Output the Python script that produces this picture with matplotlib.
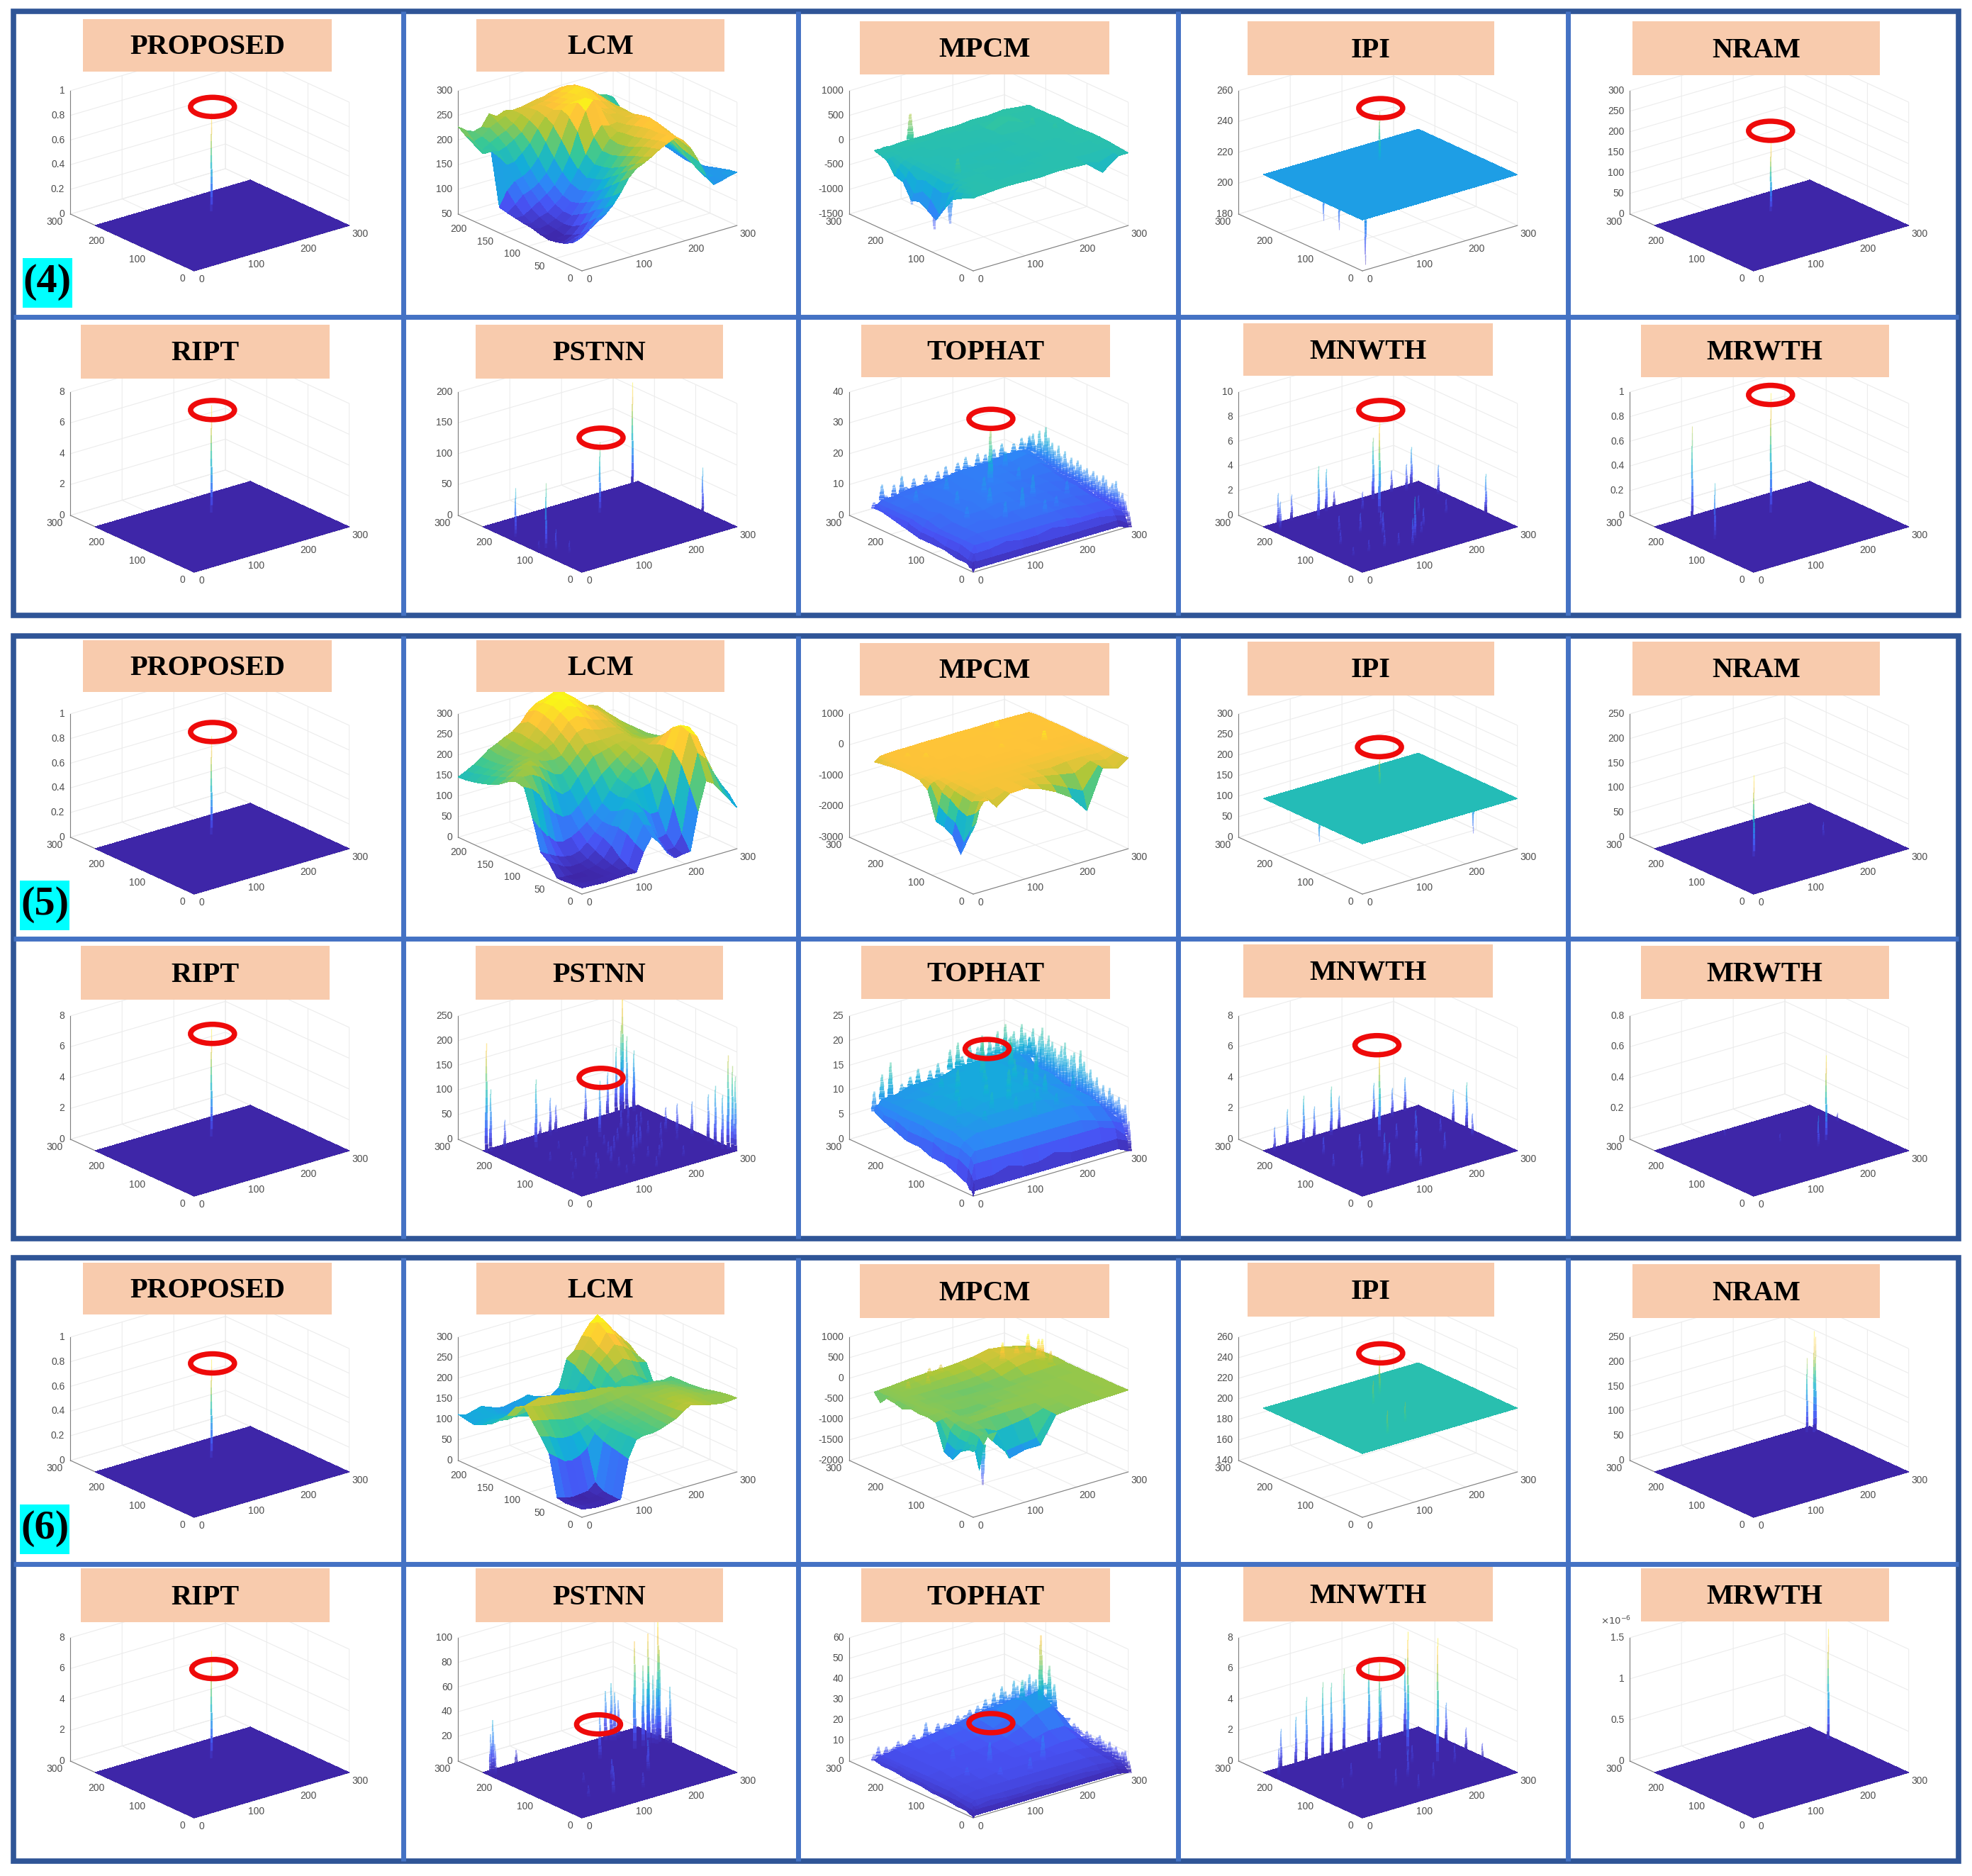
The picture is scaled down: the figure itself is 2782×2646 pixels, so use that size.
import matplotlib
matplotlib.use("Agg")
import matplotlib.pyplot as plt
import numpy as np
from matplotlib.colors import LinearSegmentedColormap, Normalize
from matplotlib.patches import Ellipse, Rectangle
from mpl_toolkits.mplot3d import proj3d
from mpl_toolkits.mplot3d.art3d import Line3DCollection

W, H = 2782, 2646
S = 1.774  # overview px -> full px

parula = LinearSegmentedColormap.from_list("parula", [
    (0.2422, 0.1504, 0.6603), (0.2810, 0.3228, 0.9579), (0.1786, 0.5289, 0.9682),
    (0.0689, 0.6948, 0.8394), (0.2161, 0.7843, 0.5923), (0.6720, 0.7793, 0.2227),
    (0.9970, 0.7659, 0.2199), (0.9769, 0.9839, 0.0805)])

# surfaces: rows go y=0..ymax, columns x=0..300
lcm4 = [
    [122,130,140,150,165,185,210,225,232,240,250,258,265,255,235,205,170,147,150,155,158],
    [100,105,118,135,150,170,195,212,222,232,245,255,262,256,240,210,175,155,150,152,155],
    [90,95,100,120,140,158,180,198,210,225,240,250,258,258,245,215,185,165,155,150,150],
    [85,82,90,105,125,145,165,185,200,218,232,245,258,262,250,225,195,175,160,150,145],
    [82,80,82,95,115,135,152,172,190,210,225,240,255,265,255,232,205,180,165,152,140],
    [85,80,85,92,105,125,145,165,185,205,222,238,250,262,258,238,212,190,170,155,135],
    [90,85,88,95,105,120,140,160,182,205,225,235,245,255,255,240,220,195,175,155,135],
    [92,88,95,100,112,125,145,170,195,225,245,240,242,248,250,240,222,200,178,158,138],
    [95,95,105,115,125,138,160,190,235,270,288,265,250,248,248,238,222,205,182,160,142],
    [98,110,125,130,140,155,180,215,255,280,285,270,255,250,245,240,225,205,185,165,145],
    [102,130,145,150,160,178,205,235,262,270,272,268,265,258,250,240,225,208,190,170,150],
    [207,190,170,172,185,200,225,245,255,262,268,272,278,268,255,242,228,210,192,172,155],
    [195,198,190,195,205,215,235,250,255,258,262,268,275,270,258,245,230,212,195,178,160],
    [205,190,200,208,215,225,240,248,250,252,258,262,268,265,258,248,232,215,200,185,170],
    [215,200,205,218,225,232,240,242,245,248,250,255,258,258,255,245,235,220,205,192,178],
    [227,215,208,212,235,225,232,228,215,210,215,222,228,225,235,228,230,218,210,205,195]]
lcm5 = [
    [15,14,13,12,13,14,15,14,60,90,70,40,22,25,27,120,187,175,150,125,100],
    [14,12,10,10,11,13,15,18,70,110,100,60,30,32,60,170,245,225,185,150,125],
    [12,10,8,9,10,12,18,30,85,130,125,85,50,55,120,215,285,270,220,175,140],
    [11,9,8,8,10,14,25,50,90,130,140,120,100,100,165,240,292,285,235,195,160],
    [40,30,18,14,15,20,35,60,85,115,140,155,155,160,195,240,280,280,245,205,170],
    [56,45,35,28,25,30,45,65,85,105,135,160,180,190,210,235,255,262,240,205,180],
    [130,100,75,55,50,55,65,80,95,115,140,165,185,200,215,225,235,240,225,205,190],
    [195,185,165,135,110,95,95,110,130,150,170,185,200,212,222,225,225,222,215,205,195],
    [200,205,205,195,175,150,135,140,165,185,205,210,215,220,222,222,215,210,205,200,195],
    [190,198,210,212,205,190,175,170,185,205,225,225,225,225,228,225,212,205,200,195,190],
    [175,185,198,205,210,205,198,195,200,225,245,250,240,235,235,230,218,205,200,195,185],
    [165,178,185,192,200,202,205,210,220,240,262,270,262,250,245,238,225,212,205,195,180],
    [158,170,178,185,192,198,205,215,232,255,275,285,278,265,255,245,232,218,208,195,175],
    [152,165,172,180,188,195,205,218,240,265,282,292,288,278,265,250,238,225,212,195,170],
    [148,158,168,178,188,196,208,222,245,268,280,288,292,285,270,252,235,225,215,195,160],
    [146,155,165,178,192,200,210,218,232,255,270,275,282,288,268,248,225,228,220,190,150]]
lcm6 = [
    [20,16,14,14,15,16,110,150,155,155,158,165,172,185,196,190,185,181,178,178,180],
    [18,14,12,12,13,16,115,150,154,155,158,165,172,182,190,188,184,180,178,178,178],
    [16,12,10,10,12,18,120,150,155,156,160,166,172,180,186,186,184,180,178,176,175],
    [20,14,10,12,14,30,125,150,156,158,162,168,172,178,182,184,182,180,176,172,170],
    [120,105,90,85,90,105,135,152,158,160,165,170,174,178,180,180,180,178,174,170,165],
    [150,145,135,130,130,135,145,155,160,162,166,170,175,176,178,176,178,176,172,166,162],
    [178,175,170,165,160,158,158,160,165,168,170,172,175,176,176,174,174,172,168,164,160],
    [205,200,195,192,190,188,185,180,178,176,178,180,180,178,175,172,168,168,165,162,160],
    [195,190,195,198,198,195,190,188,185,182,182,180,176,170,168,162,160,160,158,155,158],
    [165,160,172,180,185,182,175,170,165,160,158,155,150,145,150,150,148,148,130,125,120],
    [145,140,142,145,148,145,140,132,125,118,112,110,108,108,130,150,158,160,150,135,118],
    [125,128,130,128,122,118,112,108,104,100,98,98,100,105,128,165,178,190,180,170,165],
    [115,120,118,115,112,110,105,100,100,100,105,102,100,110,135,178,195,215,205,190,172],
    [105,112,110,112,108,104,98,95,100,105,108,100,98,115,150,188,205,235,225,205,190],
    [108,105,112,108,102,98,95,98,102,108,105,98,95,110,165,195,220,250,245,220,198],
    [112,105,110,115,108,100,98,102,105,110,100,95,92,105,170,185,215,240,255,230,200]]

mp_x = [0,6,12,20,30,45,70,100,130,160,190,220,250,280,300]
mp_y = [0,10,30,50,70,90,110,130,150,170,190,210,225,240]
mpcm4 = [
    [-30,-20,-10,-10,0,10,20,10,0,20,10,-10,-270,-30,-30],
    [-60,-30,-15,-10,5,0,10,0,10,-5,10,-10,-120,-10,-20],
    [-150,-60,-20,-10,10,-10,-20,5,-10,10,0,10,-10,5,0],
    [-250,-120,-40,-20,-10,0,-30,-40,-20,-10,5,0,10,0,20],
    [-520,-350,-200,-60,-30,-20,-10,10,-40,-30,-20,10,0,10,30],
    [-820,-700,-300,-150,-60,-40,-30,-10,-50,-20,-10,0,10,20,30],
    [-700,-480,-250,-120,-70,-50,-20,-30,-20,-10,10,0,10,10,20],
    [-600,-400,-200,-100,-50,-30,-40,-20,-30,-40,-10,5,20,10,10],
    [-650,-520,-260,-90,-50,-40,-20,-30,-40,-10,-20,10,10,30,20],
    [-350,-300,-150,-80,-40,-20,-30,-20,-10,-30,10,-10,20,10,30],
    [-300,-180,-100,-50,-20,-30,-10,-20,0,-10,20,130,10,20,20],
    [-60,-50,-30,-20,-10,-30,-20,0,-10,10,0,150,20,80,20],
    [-20,-30,-20,-10,-20,-10,0,-10,10,0,20,10,30,20,10],
    [15,20,10,30,10,20,30,20,40,30,60,50,80,40,20]]
mpcm5 = [
    [-900,-700,-300,-100,-100,-400,-80,-60,-220,-470,-800,-1370,-150,-300,-50],
    [-1200,-900,-500,-150,-90,-250,-70,-60,-150,-300,-550,-800,-120,-350,-60],
    [-1900,-1500,-700,-300,-120,-100,-60,-50,-100,-150,-250,-350,-100,-200,-50],
    [-1400,-1000,-600,-250,-100,-80,-60,-70,-60,-100,-150,-100,-80,-120,-40],
    [-1250,-900,-400,-200,-90,-70,-50,-60,-70,-50,-90,-60,-70,-60,-30],
    [-1200,-700,-300,-120,-70,-50,-60,-40,-50,-60,-50,-40,-50,-50,-30],
    [-300,-150,-100,-70,-50,-60,-40,-50,-40,-50,-40,-20,-30,-40,-40],
    [-100,-80,-60,-50,-40,-50,-40,-30,-40,-30,-20,-40,-40,-30,-30],
    [-70,-60,-50,-40,-50,-30,-40,-30,-30,-20,-30,-30,-20,-30,-20],
    [-60,-50,-50,-40,-40,-30,-40,-20,-30,-30,-20,-30,-30,-20,-20],
    [-80,-50,-40,-50,-30,-40,-30,-30,-20,-30,-20,-20,-30,-20,-30],
    [-120,-60,-50,-40,-40,-30,-30,-20,-30,-20,-30,-20,-20,-30,-20],
    [-150,-80,-50,-40,-30,-40,-30,-30,-20,-20,-20,-30,-20,-20,-30],
    [-190,-120,-60,-50,-40,-30,-30,-20,-30,-20,-30,-20,-30,-40,-50]]
mpcm6 = [
    [-410,-350,-900,-300,-100,-100,-820,-720,-720,-100,-60,-40,-30,-20,-10],
    [-410,-300,-500,-180,-120,-350,-700,-650,-600,-90,-50,-40,-30,-20,-10],
    [-540,-500,-350,-150,-120,-150,-300,-250,-200,-80,-50,-40,-30,-20,-20],
    [-820,-600,-350,-180,-100,-80,-70,-60,-50,-50,-40,-40,-30,-30,-20],
    [-740,-500,-250,-120,-90,-60,-70,-30,-40,-40,-40,-30,-40,-30,-20],
    [-120,-100,-90,-70,-70,-120,-150,-100,-60,-60,-40,-40,-30,-30,-30],
    [-70,-60,-60,-50,-50,-90,-130,-120,-100,-60,-50,-40,-40,-30,-30],
    [-90,-60,-60,-50,-60,-60,-70,-60,-70,-80,-60,-50,-40,-30,-30],
    [-60,-60,-50,-60,-70,-80,-100,-120,-120,-110,-90,-60,-40,-30,-30],
    [-160,-90,-60,-50,-60,-80,-90,-100,-110,-90,-60,60,120,60,-10],
    [-100,-70,-60,-50,-40,-60,-60,-70,-60,-40,20,120,200,100,-20],
    [-80,-60,-50,-50,-50,-40,-30,-10,0,20,80,160,200,80,-30],
    [-250,-80,-60,-50,-40,-30,-10,20,40,60,120,180,150,60,-40],
    [-60,-55,-50,-45,-40,-20,10,30,30,50,90,170,120,30,-40]]

th_x = [0,3,8,15,40,70,100,130,160,190,220,250,280,300]
th_y = [0,3,8,15,40,70,100,130,160,190,220,240]
tophat4 = [
    [0,1,1,1,1,1,1,1,1,1,1,1,1,0],
    [1,3,3,3,3,3,3,3,3,3,3,3,3,1],
    [1,3,5,5,5,6,5,5,6,5,5,5,4,3],
    [2,3,5,7,7,7,7,7,7,7,6,6,6,4],
    [2,4,6,7,8,8,8,8,8,8,8,7,7,5],
    [3,4,6,7,8,9,8,9,9,9,8,8,7,5],
    [3,5,6,7,8,9,9,10,9,9,9,8,8,6],
    [3,5,6,8,9,9,10,9,10,9,9,9,8,7],
    [4,6,7,8,8,9,9,10,10,10,9,9,9,7],
    [5,6,7,8,9,9,10,9,10,10,10,9,10,8],
    [6,6,7,8,9,9,9,10,10,10,10,10,11,9],
    [6,7,7,8,8,9,9,9,10,10,10,11,11,10]]
tophat5 = [
    [0,1,1,1,1,1,1,1,1,1,1,1,1,0],
    [1,3,3,3,3,4,3,3,4,3,3,3,3,2],
    [1,4,6,6,6,6,6,6,6,6,6,6,5,3],
    [2,5,7,8,8,8,8,8,8,8,8,7,6,5],
    [3,6,8,9,10,10,10,10,10,10,10,9,8,6],
    [4,6,8,10,10,11,11,11,11,11,10,10,9,6],
    [4,7,8,10,11,11,12,12,12,12,11,10,9,7],
    [5,7,9,10,11,12,12,12,12,12,11,10,9,7],
    [5,7,9,10,11,12,12,12,12,12,12,11,10,7],
    [6,8,9,10,11,11,12,12,12,12,12,11,10,8],
    [7,8,9,10,10,11,11,12,12,12,12,11,10,8],
    [8,9,9,10,10,11,11,11,12,12,12,12,11,10]]
tophat6 = [
    [0,1,1,1,1,1,1,1,1,1,1,1,1,0],
    [1,2,3,3,3,3,3,3,3,3,3,3,3,1],
    [1,3,4,4,5,4,4,5,4,5,5,4,4,2],
    [2,3,5,6,6,6,6,6,6,6,6,6,5,3],
    [2,4,5,6,7,7,7,7,7,7,7,7,6,4],
    [3,4,6,7,7,7,8,8,8,8,8,8,7,5],
    [3,4,6,7,7,8,8,8,8,8,8,9,9,6],
    [4,5,6,7,8,8,8,8,8,9,10,12,12,8],
    [4,5,6,7,8,8,8,8,9,10,13,17,19,13],
    [5,6,7,7,8,8,8,9,10,12,15,21,24,15],
    [5,6,7,7,8,8,9,10,11,13,16,19,18,12],
    [6,6,7,7,8,9,10,11,12,14,15,15,14,10]]

# tips standing along the two far edges of the TOPHAT surfaces, left corner -> back -> right corner
th4_back = [8,7,13,9,7,12,8,14,10,8,12,9,8,12,10,9,12,9,13,10,9,13,10,14,11,9,14,11,13,10,14,11,15,12,10,14,11,15,13,14]
th4_right = [15,16,13,18,15,20,17,16,14,16,13,15,12,14,12,14,13,12,13,11,13,12,11,13,12,10,12,13,10,10,8,5]
th5_back = [12,8,15,9,17,10,9,12,10,13,10,14,11,10,13,11,14,12,11,16,12,17,14,12,16,13,15,17,13,16,14,17,14,18,15,16,14,17,15,14]
th5_right = [14,16,13,15,17,14,16,15,14,13,15,16,13,14,15,12,16,14,12,13,11,12,10,11,9,11,10,9,10,8,9,6]
th6_back = [9,12,8,11,9,10,12,10,9,11,13,10,11,17,12,11,15,12,14,13,12,16,14,15,17,14,18,16,20,17,22,18,24,21,19,25,22,20,23,26]
th6_right = [21,23,25,22,27,20,17,14,13,11,12,13,11,10,12,11,10,9,11,10,9,10,12,10,9,11,9,10,8,9,10,6]

# spikes as (x, y, height)
prop_sp = [(173,176,0.8)]
ript_sp = [(173,176,7.0)]
ipi4_sp = [(173,176,245),(12,8,182),(25,125,195),(30,95,192)]
ipi5_sp = [(173,176,190),(20,130,60),(250,45,35),(105,105,90),(160,60,85),(60,180,95)]
ipi6_sp = [(173,176,240),(80,40,225),(130,60,222),(140,150,225)]
nram4_sp = [(173,176,170)]
nram5_sp = [(97,121,165),(230,120,30)]
nram6_sp = [(290,218,205),(296,222,190),(283,225,150)]
pstnn4_sp = [(175,176,115),(287,237,165),(298,82,72),(20,113,105),(12,177,80),(25,95,35),(8,115,15),(35,75,20)]
pstnn5_sp = [(2,235,220),(8,232,125),(30,225,60),(72,202,137),(120,228,75),(135,232,55),(105,232,30),
             (175,176,113),(195,235,75),(235,232,90),(265,238,175),(270,240,240),(285,232,120),(258,240,130),
             (262,232,110),(275,236,150),(280,225,90),(290,40,120),(295,15,190),(297,8,170),(299,4,150),
             (285,90,70),(275,115,60),(265,130,50),(292,60,95),(288,20,110),(60,90,25),(80,60,30),(100,120,25),
             (120,80,35),(140,50,28),(150,110,35),(170,90,40),(180,140,30),(200,110,45),(210,70,30),(225,150,40),
             (240,110,35),(250,170,30),(130,150,25),(90,170,20),(50,140,22),(110,30,20),(160,20,25),(190,50,28),
             (30,60,18),(220,30,25),(75,120,22),(95,85,28),(115,55,24),(135,105,30),(155,140,24),(185,100,38),
             (205,145,36),(215,175,42),(235,135,30),(245,195,40),(175,60,26),(60,40,16),(255,90,22)]
pstnn6_sp = [(5,228,32),(8,222,25),(12,232,42),(60,235,12),(175,176,35),(235,224,46),(228,228,40),(240,222,38),
             (250,225,30),(258,175,33),(241,175,87),(258,175,65),(267,175,90),(277,175,55),(286,175,100),(289,175,74),
             (262,168,50),(272,180,62),(280,170,45),(298,160,45),(295,165,28),(100,50,22),(130,90,18),(60,60,10),
             (200,90,25),(150,40,12),(90,110,9)]
mnwth4_sp = [(173,176,7.5),(85,213,4.3),(200,225,5.0),(12,215,2.3),(22,232,2.6),(50,235,2.1),(115,232,3.4),
             (135,238,1.3),(160,200,1.5),(240,230,1.8),(262,222,2.2),(280,232,3.2),(290,180,2.4),(60,60,1.0),
             (90,60,1.4),(100,130,1.6),(120,100,1.9),(130,40,2.2),(150,60,3.4),(170,70,1.0),(298,75,3.2),
             (45,110,1.2),(75,150,1.4),(110,50,1.1),(140,130,1.3),(190,90,1.5),(220,140,1.4),(250,110,1.2),(30,60,0.8)]
mnwth5_sp = [(173,176,5.6),(12,228,1.6),(40,232,2.4),(70,230,3.0),(95,235,2.0),(120,225,3.2),(145,238,2.2),
             (210,235,2.4),(240,228,1.9),(270,235,2.2),(298,120,3.0),(295,150,2.2),(285,90,1.5),(70,90,1.2),
             (100,60,1.8),(130,110,1.5),(160,70,2.2),(200,120,1.8),(230,160,1.4),(60,170,1.2),
             (40,120,0.9),(85,45,1.0),(115,150,1.1),(145,40,1.2),(185,150,1.1),(215,70,1.2),(255,130,1.0)]
mnwth6_sp = [(173,176,6.2),(216,161,8.0),(236,113,8.0),(262,225,5.0),(10,215,1.8),(30,235,2.6),(55,230,3.2),
             (80,235,4.2),(105,228,5.0),(130,238,4.6),(150,232,5.4),(200,235,5.6),(215,225,3.6),(298,170,2.5),
             (296,120,1.5),(288,70,1.2),(120,70,1.2),(160,90,1.8),(90,140,1.0),(200,130,1.2),
             (50,110,0.8),(140,40,1.0),(185,60,1.1),(250,90,1.2)]
mrwth4_sp = [(173,176,0.97),(68,234,0.74),(41,145,0.45)]
mrwth5_sp = [(230,112,0.55),(205,100,0.2),(120,220,0.05),(290,160,0.06),(170,150,0.06)]
mrwth6_sp = [(290,183,1.35)]
mpcm4_sp = [(15,113,-1135),(20,81,-909),(10,162,-808),(65,234,600),(44,92,300),(250,170,180),(270,140,120)]
mpcm5_sp = [(243,133,300),(217,215,250),(60,190,120),(40,210,90),(175,150,100)]
mpcm6_sp = [(20,2,-1290),(215,92,-1200),(195,80,-1150),(175,85,-1100),(214,198,560),(257,190,640),(263,172,580),
            (268,169,590),(276,159,300),(240,195,400),(100,232,200),(120,230,220),(80,210,180),(45,215,160)]
lcm_sp = []
tophat4_sp = [(173,176,27),(150,70,16),(120,110,15),(195,100,16),(80,140,14),(60,90,13),(215,160,14),(245,80,13),
              (110,60,14),(170,40,13),(140,150,15),(40,190,13),(100,190,14),(230,210,15),(200,50,12)]
tophat5_sp = [(170,190,19),(200,150,16),(100,80,15),(240,210,17),(80,140,15),(120,120,16),(140,90,16),(150,160,15),
              (165,120,16),(190,110,16),(210,90,15),(60,110,14),(40,150,13),(105,170,16),(130,60,14),(180,70,14),
              (225,130,16),(250,160,15),(225,190,17),(265,90,13),(90,190,14),(70,60,13),(150,40,13),(200,50,13),(35,80,12)]
tophat6_sp = [(270,175,53),(287,175,37),(298,178,27),(255,200,30),(290,190,27),(173,176,14),(120,110,18),(190,70,20),
              (80,150,14),(60,90,12),(150,50,14),(220,120,14),(100,60,12)]

xy_ticks = [0, 100, 200, 300]
lcm_yticks = [0, 50, 100, 150, 200]
t_prop = [0, 0.2, 0.4, 0.6, 0.8, 1]
t_ript = [0, 2, 4, 6, 8]

PANELS = [
    dict(title="PROPOSED", zt=t_prop, level=0, sp=prop_sp),
    dict(title="LCM", zt=[50,100,150,200,250,300], grid=lcm4, ymax=230, sp=lcm_sp),
    dict(title="MPCM", zt=[-1500,-1000,-500,0,500,1000], grid=mpcm4, gx=mp_x, gy=mp_y, sp=mpcm4_sp, clim=(-1500,1400), wide=3.0),
    dict(title="IPI", zt=[180,200,220,240,260], level=213, sp=ipi4_sp, clim=(180,270)),
    dict(title="NRAM", zt=[0,50,100,150,200,250,300], level=0, sp=nram4_sp),
    dict(title="RIPT", zt=t_ript, level=0, sp=ript_sp),
    dict(title="PSTNN", zt=[0,50,100,150,200], level=0, sp=pstnn4_sp),
    dict(title="TOPHAT", zt=[0,10,20,30,40], grid=tophat4, gx=th_x, gy=th_y, sp=tophat4_sp, back=th4_back, right=th4_right, clim=(0,38), wide=2.4),
    dict(title="MNWTH", zt=[0,2,4,6,8,10], level=0, sp=mnwth4_sp, wide=1.2),
    dict(title="MRWTH", zt=t_prop, level=0, sp=mrwth4_sp),

    dict(title="PROPOSED", zt=t_prop, level=0, sp=prop_sp),
    dict(title="LCM", zt=[0,50,100,150,200,250,300], grid=lcm5, ymax=230, sp=lcm_sp),
    dict(title="MPCM", zt=[-3000,-2000,-1000,0,1000], grid=mpcm5, gx=mp_x, gy=mp_y, sp=mpcm5_sp, clim=(-2000,300), wide=3.0),
    dict(title="IPI", zt=[0,50,100,150,200,250,300], level=122, sp=ipi5_sp, clim=(0,245)),
    dict(title="NRAM", zt=[0,50,100,150,200,250], level=0, sp=nram5_sp),
    dict(title="RIPT", zt=t_ript, level=0, sp=ript_sp),
    dict(title="PSTNN", zt=[0,50,100,150,200,250], level=0, sp=pstnn5_sp, wide=1.3),
    dict(title="TOPHAT", zt=[0,5,10,15,20,25], grid=tophat5, gx=th_x, gy=th_y, sp=tophat5_sp, back=th5_back, right=th5_right, clim=(0,30), wide=2.4),
    dict(title="MNWTH", zt=[0,2,4,6,8], level=0, sp=mnwth5_sp, wide=1.2),
    dict(title="MRWTH", zt=[0,0.2,0.4,0.6,0.8], level=0, sp=mrwth5_sp),

    dict(title="PROPOSED", zt=t_prop, level=0, sp=prop_sp),
    dict(title="LCM", zt=[0,50,100,150,200,250,300], grid=lcm6, ymax=230, sp=lcm_sp),
    dict(title="MPCM", zt=[-2000,-1500,-1000,-500,0,500,1000], grid=mpcm6, gx=mp_x, gy=mp_y, sp=mpcm6_sp, clim=(-1400,600), wide=2.4),
    dict(title="IPI", zt=[140,160,180,200,220,240,260], level=202, sp=ipi6_sp, clim=(140,260)),
    dict(title="NRAM", zt=[0,50,100,150,200,250], level=0, sp=nram6_sp),
    dict(title="RIPT", zt=t_ript, level=0, sp=ript_sp),
    dict(title="PSTNN", zt=[0,20,40,60,80,100], level=0, sp=pstnn6_sp, wide=1.5),
    dict(title="TOPHAT", zt=[0,10,20,30,40,50,60], grid=tophat6, gx=th_x, gy=th_y, sp=tophat6_sp, back=th6_back, right=th6_right, clim=(0,60), wide=2.4),
    dict(title="MNWTH", zt=[0,2,4,6,8], level=0, sp=mnwth6_sp, wide=1.2),
    dict(title="MRWTH", zt=[0,0.5,1,1.5], level=0, sp=mrwth6_sp),
]

# layout in full px
COL_X = [99, 646, 1198, 1747, 2299]
ROW_Y = [300, 725, 1179, 1605, 2058, 2482]
# title boxes in overview px
TITLE_X = [[66,264],[379,576],[684,882],[992,1188],[1298,1495],[64,262],[378,575],[685,883],[989,1187],[1305,1502]]
TITLE_Y = [
    [15,57],[15,57],[17,59],[17,60],[17,60],[258,301],[258,301],[258,300],[257,299],[258,300],
    [509,550],[509,550],[511,553],[510,553],[510,553],[752,795],[752,795],[752,794],[751,793],[752,794],
    [1004,1045],[1004,1045],[1005,1048],[1004,1047],[1005,1048],[1247,1290],[1247,1290],[1247,1290],[1246,1289],[1247,1289]]
RINGS = [(169,85),(1098,86),(1408,104),(169,326),(478,348),(788,333),(1098,326),(1408,314),
         (169,582),(1097,594),(169,822),(478,857),(785,834),(1095,831),
         (169,1084),(1098,1076),(170,1327),(476,1371),(788,1370),(1098,1327)]
GROUP_Y = [(16,447,868),(897,1324,1747),(1774,2206,2625)]
SEP_X = [569, 1126, 1662, 2212]
TAGS = [("(4)",18,205),("(5)",16,700),("(6)",16,1196)]

plt.rcParams["font.family"] = ["Liberation Sans", "DejaVu Sans"]
plt.rcParams["grid.color"] = "#ececec"
plt.rcParams["grid.linewidth"] = 0.8
plt.rcParams["axes3d.automargin"] = False

fig = plt.figure(figsize=(W / 100, H / 100), dpi=100)

AX_PX = 425.0  # square axes side that gives a 280 px long floor edge
TICK_TEXT = []


def fmt(v):
    return "%g" % v


def to_px(ax, x, y, z):
    x2, y2, _ = proj3d.proj_transform(x, y, z, ax.get_proj())
    dx, dy = ax.transData.transform((x2, y2))
    return dx, H - dy


def draw_spikes(ax, spikes, panel, norm, xs, ys, zorder):
    segs, cols, lws = [], [], []
    wide = panel.get("wide", 1.0)
    for x, y, h in spikes:
        if "grid" in panel:
            b = panel["grid"][np.abs(ys - y).argmin()][np.abs(xs - x).argmin()]
        else:
            b = panel["level"]
        zs = np.linspace(b, h, 15)
        for k in range(14):
            segs.append([(x, y, zs[k]), (x, y, zs[k + 1])])
            c = list(parula(norm((zs[k] + zs[k + 1]) / 2)))
            c[3] = 1.0 - 0.55 * k / 13
            cols.append(c)
            lws.append(wide * (2.6 - 1.8 * k / 13))
    if segs:
        lc = Line3DCollection(segs, colors=cols, linewidths=lws, zorder=zorder)
        lc.set_capstyle("butt")
        ax.add_collection3d(lc)


for i, p in enumerate(PANELS):
    bx = COL_X[i % 5]
    by = ROW_Y[i // 5]
    cx, cy = bx + 197, by + 10 - 87
    rect = [(cx - 0.5135 * AX_PX) / W, (H - cy - 0.5135 * AX_PX) / H, AX_PX / W, AX_PX / H]
    ax = fig.add_axes(rect, projection="3d", proj_type="ortho", computed_zorder=False)
    ax.view_init(elev=21.5, azim=-128.6)
    ax.set_box_aspect((280, 280, 187))
    ax.set_facecolor("none")

    ymax = p.get("ymax", 300)
    zt = p["zt"]
    ax.set_xlim(0, 300, view_margin=0)
    ax.set_ylim(0, ymax, view_margin=0)
    ax.set_zlim(zt[0], zt[-1], view_margin=0)
    yt = lcm_yticks if ymax != 300 else xy_ticks
    ax.set_xticks(xy_ticks)
    ax.set_yticks(yt)
    ax.set_zticks(zt)
    ax.set_xticklabels([])
    ax.set_yticklabels([])
    ax.set_zticklabels([])
    for a in (ax.xaxis, ax.yaxis, ax.zaxis):
        a.set_pane_color((1, 1, 1, 0))
        a.pane.set_edgecolor((1, 1, 1, 0))
        a._axinfo["tick"]["inward_factor"] = 0.0
        a._axinfo["tick"]["outward_factor"] = 0.0
        a.line.set_color((1, 1, 1, 0))

    # surface
    if "grid" in p:
        Z = np.array(p["grid"], dtype=float)
        p["grid"] = Z
        xs = np.array(p.get("gx", np.linspace(0, 300, Z.shape[1])), dtype=float)
        ys = np.array(p.get("gy", np.linspace(0, ymax, Z.shape[0])), dtype=float)
    else:
        Z = np.array([[p["level"]] * 2] * 2, dtype=float)
        xs = np.array([0.0, 300.0])
        ys = np.array([0.0, 240.0])
    spk = p["sp"]
    all_z = list(Z.ravel()) + [s[2] for s in spk]
    lo, hi = p.get("clim", (min(all_z), max(all_z)))
    norm = Normalize(lo, hi)

    ax.plot([0, 300], [0, 0], [zt[0], zt[0]], color="#7f7f7f", lw=0.8, zorder=0)
    ax.plot([0, 0], [0, ymax], [zt[0], zt[0]], color="#7f7f7f", lw=0.8, zorder=0)
    ax.plot([0, 0], [ymax, ymax], [zt[0], zt[-1]], color="#7f7f7f", lw=0.8, zorder=0)

    level = p.get("level", Z.mean())
    below = [s for s in spk if s[2] < level]
    if "back" in p:
        bx_tips = np.linspace(0, 300, len(p["back"]))
        below += [(v, 240, h) for v, h in zip(bx_tips, p["back"])]
        by_tips = np.linspace(240, 0, len(p["right"]))
        below += [(300, v, h) for v, h in zip(by_tips, p["right"])]
    above = [s for s in spk if s[2] >= level]
    draw_spikes(ax, below, p, norm, xs, ys, 1)
    XX, YY = np.meshgrid(xs, ys)
    ax.plot_surface(XX, YY, Z, cmap=parula, norm=norm, rstride=1, cstride=1,
                    linewidth=0, antialiased=False, shade=False, zorder=2)
    draw_spikes(ax, above, p, norm, xs, ys, 3)

    # tick labels go on the overlay, placed from the axes' own projection
    for v in xy_ticks:
        px, py = to_px(ax, v, 0, zt[0])
        TICK_TEXT.append((px + (10 if v == 0 else 15), py + 12, fmt(v), "center"))
    for v in yt:
        px, py = to_px(ax, 0, v, zt[0])
        TICK_TEXT.append((px - (17 if v == 0 else 22), py + 11, fmt(v), "center"))
    for v in zt:
        px, py = to_px(ax, 0, ymax, v)
        TICK_TEXT.append((px - 8, py, fmt(v), "right"))

# overlay in pixel coordinates: frames, title boxes, rings, tags
ov = fig.add_axes([0, 0, 1, 1], zorder=20)
ov.set_xlim(0, W)
ov.set_ylim(H, 0)
ov.axis("off")
ov.patch.set_alpha(0)

for tx, ty, txt, ha in TICK_TEXT:
    ov.text(tx, ty, txt, ha=ha, va="center", fontsize=10, color="#4d4d4d")

for k, p in enumerate(PANELS):
    x0, x1 = TITLE_X[k % 10]
    y0, y1 = TITLE_Y[k]
    ov.add_patch(Rectangle((x0 * S, y0 * S), (x1 - x0) * S, (y1 - y0) * S, fc="#F8CBAD", ec="none"))
    ov.text((x0 + x1) / 2 * S, (y0 + y1) / 2 * S + 3, p["title"], ha="center", va="center", fontsize=29,
            fontweight="bold", family="Liberation Serif", color="black")

for x, y in RINGS:
    ov.add_patch(Ellipse((x * S, y * S), 62, 27, fc="none", ec="#EE0A0A", lw=5.4))

for y0, ym, y1 in GROUP_Y:
    for x in SEP_X:
        ov.plot([x, x], [y0, y1], color="#4472C4", lw=5, solid_capstyle="butt")
    ov.plot([19, 2763], [ym, ym], color="#4472C4", lw=5, solid_capstyle="butt")
    ov.add_patch(Rectangle((19, y0), 2744, y1 - y0, fc="none", ec="#2F5597", lw=5.5))

for txt, x, y in TAGS:
    ov.add_patch(Rectangle((x * S, y * S), 70, 70, fc="#00FFFF", ec="none"))
    ov.text(x * S + 35, y * S + 34, txt, ha="center", va="center", fontsize=42, fontweight="bold",
            family="Liberation Serif", color="black")

ov.text(2258, 2286, r"$\times 10^{-6}$", fontsize=9.5, color="#4d4d4d", ha="left", va="center")

fig.savefig("out.png", dpi=100)
